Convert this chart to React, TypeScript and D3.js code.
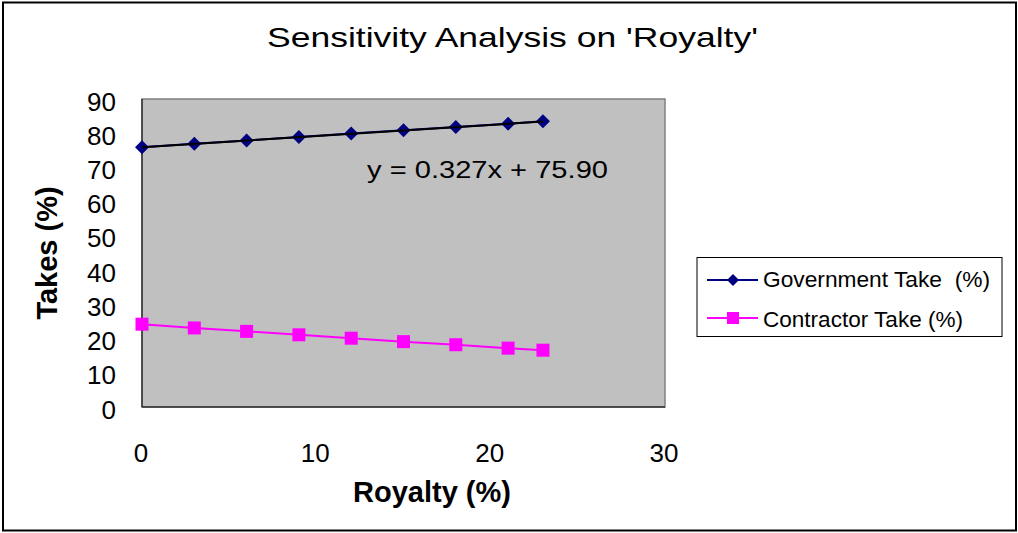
import React from "react";
import * as d3 from "d3";

const royalty = [0, 3, 6, 9, 12, 15, 18, 21, 23];
const governmentTake = [75.9, 76.9, 77.9, 78.9, 79.9, 80.9, 81.8, 82.8, 83.5];
const contractorTake = [24.2, 23.1, 22.1, 21.1, 20.1, 19.1, 18.2, 17.2, 16.6];
const xTicks = [0, 10, 20, 30];
const yTicks = [0, 10, 20, 30, 40, 50, 60, 70, 80, 90];
const trendSlope = 0.327;
const trendIntercept = 75.9;
const seriesNames = ["Government Take  (%)", "Contractor Take (%)"];

const W = 1018, H = 533;
const plot = { left: 142, right: 665, top: 99, bottom: 407 };
const font = "Arial, 'Liberation Sans', sans-serif";

export default function App() {
  const x = d3.scaleLinear().domain([0, 30]).range([plot.left, plot.right]);
  const y = d3.scaleLinear().domain([0, 90]).range([plot.bottom, plot.top]);
  const line = d3.line<[number, number]>().x(d => x(d[0])).y(d => y(d[1]));
  const gov: [number, number][] = royalty.map((r, i) => [r, governmentTake[i]]);
  const con: [number, number][] = royalty.map((r, i) => [r, contractorTake[i]]);
  const trend: [number, number][] = [0, 23].map(r => [r, trendSlope * r + trendIntercept]);
  const diamond = (cx: number, cy: number, s: number) =>
    `M${cx},${cy - s}L${cx + s},${cy}L${cx},${cy + s}L${cx - s},${cy}Z`;
  return (
    <svg width={W} height={H} style={{ position: "absolute", left: 0, top: 0 }} fontFamily={font}>
      <rect x={0} y={0} width={W} height={H} fill="#fff" />
      <rect x={3} y={2.5} width={1013} height={528} fill="#fff" stroke="#000" strokeWidth={2} />
      <text x={267} y={47} fontSize={28} textLength={491} lengthAdjust="spacingAndGlyphs">Sensitivity Analysis on 'Royalty'</text>
      <rect x={plot.left} y={plot.top} width={plot.right - plot.left} height={plot.bottom - plot.top}
        fill="#C0C0C0" stroke="#808080" strokeWidth={1.5} />
      <line x1={plot.left} x2={plot.left} y1={plot.top} y2={plot.bottom} stroke="#000" strokeWidth={1} />
      <line x1={plot.left} x2={plot.right} y1={plot.bottom} y2={plot.bottom} stroke="#000" strokeWidth={1} />
      {yTicks.map(t => (
        <text key={t} x={116} y={y(t) + 11.5} textAnchor="end" fontSize={26}>{t}</text>
      ))}
      {xTicks.map(t => (
        <text key={t} x={x(t) - 1} y={462} textAnchor="middle" fontSize={26}>{t}</text>
      ))}
      <text x={432} y={502} textAnchor="middle" fontSize={29} fontWeight="bold">Royalty (%)</text>
      <text transform={`translate(57,253) rotate(-90)`} textAnchor="middle" fontSize={29} fontWeight="bold">Takes (%)</text>
      <path d={line(gov) || ""} fill="none" stroke="#000080" strokeWidth={2} />
      <path d={line(con) || ""} fill="none" stroke="#FF00FF" strokeWidth={2} />
      {gov.map((d, i) => (
        <path key={i} d={diamond(x(d[0]), y(d[1]), 7)} fill="#000080" />
      ))}
      {con.map((d, i) => (
        <rect key={i} x={x(d[0]) - 6.5} y={y(d[1]) - 6.5} width={13} height={13} fill="#FF00FF" />
      ))}
      <path d={line(trend) || ""} fill="none" stroke="#000" strokeWidth={2} />
      <text x={367} y={178} fontSize={24} textLength={241} lengthAdjust="spacingAndGlyphs">y = 0.327x + 75.90</text>
      <rect x={697} y={257.5} width={305} height={79} fill="#fff" stroke="#000" strokeWidth={1} />
      <line x1={707} x2={758} y1={280} y2={280} stroke="#000080" strokeWidth={2} />
      <path d={diamond(733, 280, 6)} fill="#000080" />
      <text x={763} y={287} fontSize={22} textLength={227} lengthAdjust="spacingAndGlyphs" style={{ whiteSpace: "pre" }}>{seriesNames[0]}</text>
      <line x1={707} x2={758} y1={318} y2={318} stroke="#FF00FF" strokeWidth={2} />
      <rect x={727} y={312} width={12} height={12} fill="#FF00FF" />
      <text x={763} y={327} fontSize={22} textLength={200} lengthAdjust="spacingAndGlyphs">{seriesNames[1]}</text>
    </svg>
  );
}
